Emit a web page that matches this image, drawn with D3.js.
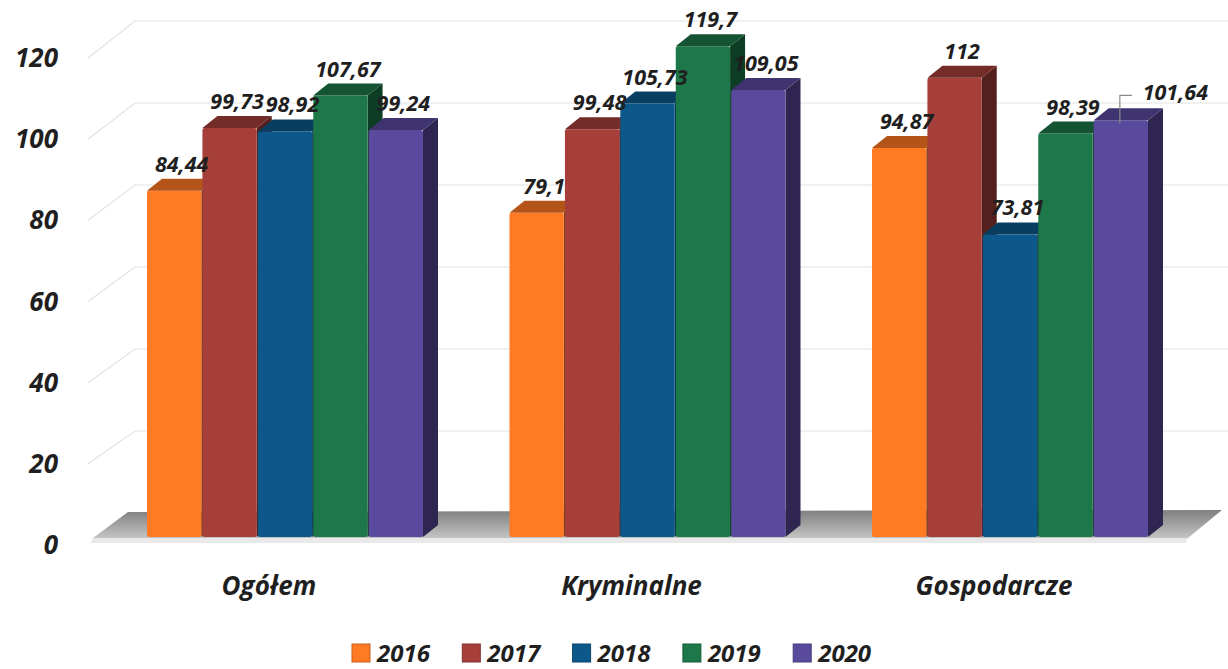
<!DOCTYPE html>
<html>
<head>
<meta charset="utf-8">
<script src="https://cdn.jsdelivr.net/npm/d3@7"></script>
<style>
	body{ margin:0; background:#fff; }
	svg text{ font-family:"Open Sans", "Liberation Sans", sans-serif; font-weight:bold; font-style:italic; fill:#1f1f1f; }
</style>
</head>
<body>
<svg id="vis" width="1228" height="669"></svg>
<script>
var categories = ['Ogółem','Kryminalne','Gospodarcze'];
var years = ['2016','2017','2018','2019','2020'];
var yearColors = ['#ff7a22','#a63f3a','#0c588b','#1c7848','#5a4a9e'];
var v2016 = [84.44, 79.1, 94.87];
var v2017 = [99.73, 99.48, 112];
var v2018 = [98.92, 105.73, 73.81];
var v2019 = [107.67, 119.7, 98.39];
var v2020 = [99.24, 109.05, 101.64];
var yTicks = [0,20,40,60,80,100,120];

window.onload = function(){

	return {

		w:1228,
		h:669,

		depth_dx:15,
		depth_dy:-12,
		base_y:537,

		fmt:function(v){ return String(v).replace('.',','); },

		generate:function(){
			var self = this,
				series = [v2016,v2017,v2018,v2019,v2020];

			var svg = d3.select('#vis');

			var x0 = d3.scaleBand()
				.domain(categories)
				.range([103.75, 1191.25])
				.paddingInner(0.2386)
				.paddingOuter(0.1193);
			var x1 = d3.scaleBand()
				.domain(years)
				.range([0, x0.bandwidth()])
				.paddingInner(0.02);
			var y = d3.scaleLinear().domain([0,120]).range([self.base_y, 45]);
			var yBack = d3.scaleLinear().domain([0,120]).range([513, 21]);
			var yLab = d3.scaleLinear().domain([0,120]).range([545, 58]);
			var color = d3.scaleOrdinal().domain(years).range(yearColors);

			var defs = svg.append('defs');
			var fg = defs.append('linearGradient').attr('id','floorG')
				.attr('x1',0).attr('y1',0).attr('x2',0).attr('y2',1);
			fg.append('stop').attr('offset','0%').attr('stop-color','#7f7f7f');
			fg.append('stop').attr('offset','100%').attr('stop-color','#c4c4c4');

			// back wall grid
			var grid = svg.append('g').classed('grid',true);
			grid.selectAll('path.gl')
				.data(yTicks.filter(function(d){ return d > 0; }))
				.enter().append('path')
				.classed('gl',true)
				.attr('d',function(d){
					return 'M88,' +yLab(d) +'L135,' +yBack(d) +'L1228,' +yBack(d);
				})
				.attr('fill','none')
				.attr('stroke','#e2e2e2')
				.attr('stroke-width',1.2);

			// y labels
			svg.append('g').selectAll('text.ylab')
				.data(yTicks)
				.enter().append('text')
				.classed('ylab',true)
				.attr('x',58)
				.attr('y',function(d){ return yLab(d); })
				.attr('dy','0.35em')
				.attr('text-anchor','end')
				.attr('font-size',26)
				.text(function(d){ return d; });

			// floor
			var fl = [[93,538],[1188,538],[1222,510],[128,512]];
			svg.append('path')
				.attr('d','M' +fl.join('L') +'Z')
				.attr('fill','url(#floorG)');
			svg.append('path')
				.attr('d','M93,538L1188,538L1186,543L90,543Z')
				.attr('fill','#e9e9e9');

			var dx = self.depth_dx, dy = self.depth_dy, b = self.base_y;

			var groups = svg.selectAll('g.cat')
				.data(categories)
				.enter().append('g')
				.classed('cat',true)
				.attr('transform',function(d){ return 'translate(' +x0(d) +',0)'; });

			groups.each(function(cat,ci){
				var g = d3.select(this),
					rows = years.map(function(yr,yi){ return {year:yr, v:series[yi][ci], cat:cat}; });

				var bars = g.selectAll('g.bar')
					.data(rows)
					.enter().append('g')
					.classed('bar',true);

				bars.append('path')
					.attr('d',function(d){
						var x = x1(d.year) +x1.bandwidth(), t = y(d.v);
						return 'M' +x +',' +t +'L' +(x+dx) +',' +(t+dy) +'L' +(x+dx) +',' +(b+dy) +'L' +x +',' +b +'Z';
					})
					.attr('fill',function(d){ return d3.color(color(d.year)).darker(1.9); });
				bars.append('rect')
					.attr('x',function(d){ return x1(d.year); })
					.attr('y',function(d){ return y(d.v); })
					.attr('width',x1.bandwidth())
					.attr('height',function(d){ return b -y(d.v); })
					.attr('rx',2)
					.attr('fill',function(d){ return color(d.year); });
				bars.append('path')
					.attr('d',function(d){
						var x = x1(d.year), t = y(d.v), w = x1.bandwidth();
						return 'M' +x +',' +t +'L' +(x+dx) +',' +(t+dy) +'L' +(x+w+dx) +',' +(t+dy) +'L' +(x+w) +',' +t +'Z';
					})
					.attr('fill',function(d){ return d3.color(color(d.year)).darker(1.0); });

				// value labels
				g.selectAll('text.val')
					.data(rows)
					.enter().append('text')
					.classed('val',true)
					.attr('x',function(d){
						var cx = x1(d.year) +x1.bandwidth()/2 +dx/2;
						return (ci === 2 && d.year === '2020') ? cx +47 : cx;
					})
					.attr('y',function(d){
						return (ci === 2 && d.year === '2020') ? y(d.v) +dy -8 : y(d.v) +dy -7;
					})
					.attr('text-anchor','middle')
					.attr('font-size',21.5)
					.text(function(d){ return self.fmt(d.v); });

				// leader line for the shifted label
				rows.filter(function(d){ return ci === 2 && d.year === '2020'; }).forEach(function(d){
					var lx = x1(d.year) +x1.bandwidth()/2 -1;
					g.append('path')
						.attr('d','M' +lx +',' +(y(d.v)+3) +'L' +lx +',' +(y(d.v)+dy-13) +'L' +(lx+12) +',' +(y(d.v)+dy-13))
						.attr('fill','none')
						.attr('stroke','#8a8a8a')
						.attr('stroke-width',1.2);
				});
			});

			// category labels
			svg.selectAll('text.cat')
				.data(categories)
				.enter().append('text')
				.classed('cat',true)
				.attr('x',function(d){ return x0(d) +x0.bandwidth()/2 -16; })
				.attr('y',595)
				.attr('text-anchor','middle')
				.attr('font-size',26)
				.text(function(d){ return d; });

			// legend
			var lg = svg.selectAll('g.leg')
				.data(years)
				.enter().append('g')
				.classed('leg',true)
				.attr('transform',function(d,i){ return 'translate(' +(352 +i*110.3) +',0)'; });
			lg.append('rect')
				.attr('x',0).attr('y',644)
				.attr('width',18).attr('height',18)
				.attr('fill',function(d){ return color(d); })
				.attr('stroke',function(d){ return d3.color(color(d)).darker(0.7); })
				.attr('stroke-width',1);
			lg.append('text')
				.attr('x',25)
				.attr('y',662)
				.attr('font-size',24)
				.text(function(d){ return d; });
		}
	}
}().generate();
</script>
</body>
</html>
